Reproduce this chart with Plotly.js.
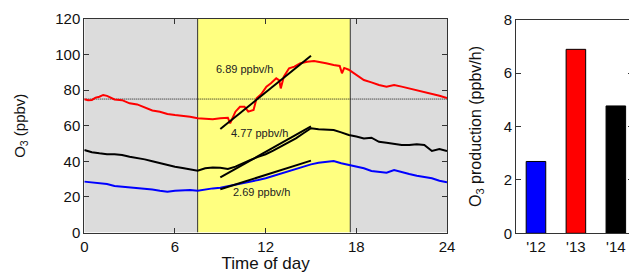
<!DOCTYPE html>
<html><head><meta charset="utf-8">
<script src="https://cdn.plot.ly/plotly-3.0.1.min.js"></script>
<style>html,body{margin:0;padding:0;overflow:hidden;background:#fff;width:629px;height:276px}#c{width:640px;height:276px}</style>
</head><body><div id="c"></div>
<script>
// --- data ---
const redT = [0,0.25,0.5,0.75,1,1.25,1.5,1.75,2,2.5,3,3.5,4,4.5,5,5.5,6,6.5,7,7.5,8,8.5,9,9.5,9.65,10,10.3,10.6,10.85,11.2,11.4,11.7,12.05,12.35,12.7,12.9,13,13.2,13.55,13.9,14.3,14.75,15.2,15.8,16,16.5,16.9,17.05,17.2,17.5,17.75,18,18.5,19,19.5,20,20.5,21,21.5,22,22.5,23,23.5,24];
const redV = [74.9,74.3,74.5,75.8,76.3,77.3,76.8,75.8,74.8,74.4,72.6,72.0,70.4,68.6,67.9,66.6,66.0,65.6,65.1,64.2,64.0,63.6,64.2,64.5,61.4,67.9,70.7,70.7,67.9,68.9,75.4,77.7,82.0,83.9,86.7,85.5,81.0,87.6,92.3,93.2,95.1,96.0,96.4,95.1,95.1,94.2,93.6,89.5,92.5,91.5,90.0,88.2,85.7,84.4,82.9,82.0,82.9,82.0,81.0,80.1,78.8,77.7,76.9,75.6];
const hrT = [0,0.5,1,1.5,2,2.5,3,3.5,4,4.5,5,5.5,6,6.5,7,7.5,8,8.5,9,9.5,10,10.5,11,11.5,12,12.5,13,13.5,14,14.5,15,15.5,16,16.5,17,17.5,18,18.5,19,19.5,20,20.5,21,21.5,22,22.5,23,23.5,24];
const blackV = [46.4,45.1,44.5,44.0,44.0,43.6,42.6,42.0,41.1,40.0,38.9,37.8,37.0,36.2,35.5,34.7,36.1,36.5,36.4,35.7,37.0,39.0,40.8,42.5,44.0,46.0,48.2,50.5,52.9,55.8,58.6,58.0,57.6,57.6,56.3,54.8,53.9,52.9,53.3,51.0,50.5,49.7,49.2,49.2,49.6,49.2,45.8,46.9,45.8];
const blueV = [28.6,28.2,28.0,27.2,26.1,25.8,25.4,24.8,24.5,24.2,23.5,22.9,23.5,23.8,23.9,23.5,24.3,24.8,25.2,26.0,26.7,27.6,28.6,29.5,30.5,31.8,33.3,34.8,36.1,37.3,38.3,39.2,39.8,40.2,38.9,37.9,37.0,36.1,34.6,34.2,33.6,35.1,34.2,32.9,31.9,31.0,30.5,29.1,28.2];
const fitT = [9,15];
const redFit = [58.2,99.3];
const blackFit = [31.0,59.6];
const blueFit = [24.3,40.4];
const rateLabels = ['6.89 ppbv/h','4.77 ppbv/h','2.69 ppbv/h'];
const years = ["'12","'13","'14"];
const rates = [2.69,6.89,4.77];
const barColors = ['#0000ff','#ff0000','#000000'];
const dayStart = 7.5, dayEnd = 17.6, refLevel = 75;

const W = 640, H = 276;
const L = {x0:84.3, x1:447, y0:19, y1:232.5};
const R = {x0:516, x1:633, y0:19.7, y1:233.3};
const fx = v => v / W, fy = v => 1 - v / H;

const traces = [
  {x:redT, y:redV, type:'scatter', mode:'lines', line:{color:'#ff0000', width:2}, xaxis:'x', yaxis:'y'},
  {x:hrT, y:blackV, type:'scatter', mode:'lines', line:{color:'#000000', width:2}, xaxis:'x', yaxis:'y'},
  {x:hrT, y:blueV, type:'scatter', mode:'lines', line:{color:'#0000ff', width:2}, xaxis:'x', yaxis:'y'},
  {x:fitT, y:redFit, type:'scatter', mode:'lines', line:{color:'#000', width:2}, xaxis:'x', yaxis:'y'},
  {x:fitT, y:blackFit, type:'scatter', mode:'lines', line:{color:'#000', width:2}, xaxis:'x', yaxis:'y'},
  {x:fitT, y:blueFit, type:'scatter', mode:'lines', line:{color:'#000', width:2}, xaxis:'x', yaxis:'y'},
  {x:years, y:rates, type:'bar', marker:{color:barColors, line:{color:'#000', width:1}}, xaxis:'x2', yaxis:'y2'}
];

const tickFont = {family:'Liberation Sans, Arial, sans-serif', size:15, color:'#111'};
const axBase = {showline:true, linecolor:'#333', linewidth:1, ticks:'inside', ticklen:5, tickcolor:'#333', mirror:'ticks', showgrid:false, zeroline:false, tickfont:tickFont, fixedrange:true};

const layout = {
  width: W, height: H, margin:{l:0,r:0,t:0,b:0},
  paper_bgcolor:'#fff', plot_bgcolor:'#fff', showlegend:false, bargap:0.51,
  font:{family:'Liberation Sans, Arial, sans-serif', color:'#111'},
  xaxis: Object.assign({}, axBase, {domain:[fx(L.x0), fx(L.x1)], range:[0,24], tickvals:[0,6,12,18,24],
    title:{text:'Time of day', font:{size:17, color:'#111'}, standoff:3}, anchor:'y'}),
  yaxis: Object.assign({}, axBase, {domain:[fy(L.y1), fy(L.y0)], range:[0,120], tickvals:[0,20,40,60,80,100,120],
    title:{text:'O<sub>3</sub> (ppbv)', font:{size:15, color:'#111'}, standoff:26}, anchor:'x'}),
  xaxis2: Object.assign({}, axBase, {domain:[fx(R.x0), fx(R.x1)], range:[-0.5,2.43], ticks:'', mirror:true, anchor:'y2', type:'category'}),
  yaxis2: Object.assign({}, axBase, {domain:[fy(R.y1), fy(R.y0)], range:[0,8], tickvals:[0,2,4,6,8],
    title:{text:'O<sub>3</sub> production (ppbv/h)', font:{size:16, color:'#111'}, standoff:18}, anchor:'x2'}),
  shapes: [
    {type:'rect', xref:'x', yref:'y', x0:0, x1:dayStart, y0:0, y1:120, fillcolor:'#dcdcdc', line:{width:0}, layer:'below'},
    {type:'rect', xref:'x', yref:'y', x0:dayStart, x1:dayEnd, y0:0, y1:120, fillcolor:'#ffff80', line:{width:0}, layer:'below'},
    {type:'rect', xref:'x', yref:'y', x0:dayEnd, x1:24, y0:0, y1:120, fillcolor:'#dcdcdc', line:{width:0}, layer:'below'},
    {type:'line', xref:'x', yref:'y', x0:dayStart, x1:dayStart, y0:0, y1:120, line:{color:'#333', width:1}, layer:'below'},
    {type:'line', xref:'x', yref:'y', x0:dayEnd, x1:dayEnd, y0:0, y1:120, line:{color:'#333', width:1}, layer:'below'},
    {type:'line', xref:'x', yref:'y', x0:0, x1:24, y0:refLevel, y1:refLevel, line:{color:'#111', width:1, dash:'1px,1px'}, layer:'below'}
  ],
  annotations: [
    {xref:'x', yref:'y', x:10.63, y:91.7, text:rateLabels[0], showarrow:false, font:{size:11, color:'#222'}},
    {xref:'x', yref:'y', x:11.62, y:56.1, text:rateLabels[1], showarrow:false, font:{size:11, color:'#222'}},
    {xref:'x', yref:'y', x:11.73, y:22.9, text:rateLabels[2], showarrow:false, font:{size:11, color:'#222'}}
  ]
};

Plotly.newPlot('c', traces, layout, {displayModeBar:false, staticPlot:true});
</script>
</body></html>
